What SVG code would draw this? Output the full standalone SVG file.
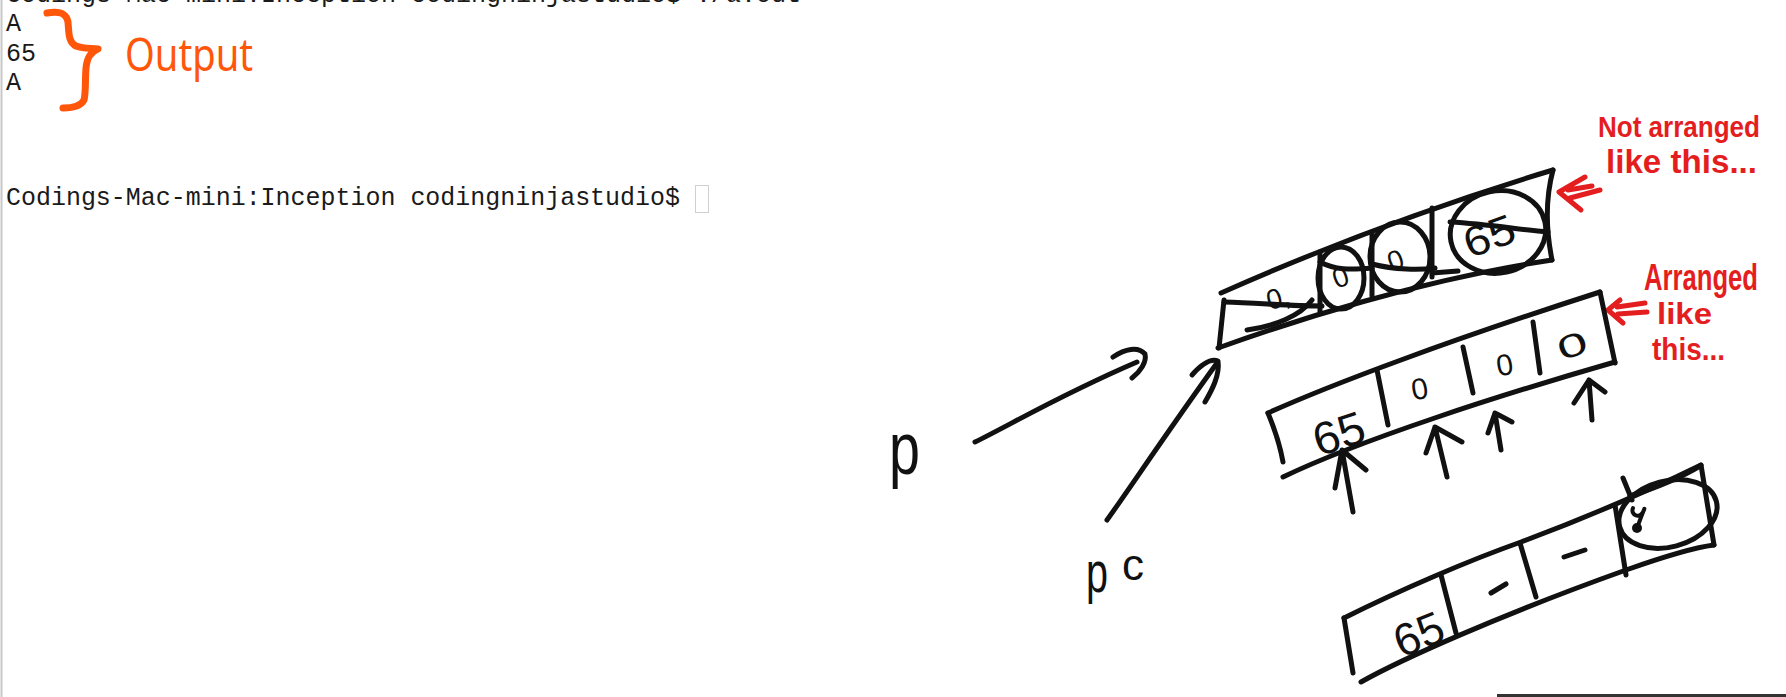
<svg xmlns="http://www.w3.org/2000/svg" width="1786" height="697" viewBox="0 0 1786 697">
<style>
.term{font-family:"Liberation Mono","DejaVu Sans Mono",monospace;font-size:25px;fill:#1a1a1a}
.ink{fill:none;stroke:#111;stroke-width:5;stroke-linecap:round;stroke-linejoin:round}
.inkt{fill:none;stroke:#111;stroke-width:4;stroke-linecap:round;stroke-linejoin:round}
.red{fill:none;stroke:#E41E1E;stroke-width:5;stroke-linecap:round;stroke-linejoin:round}
.orange{fill:none;stroke:#FF560A;stroke-width:7;stroke-linecap:round;stroke-linejoin:round}
.hand{font-family:"Liberation Sans","DejaVu Sans",sans-serif;fill:#111}
.redt{font-family:"Liberation Sans","DejaVu Sans",sans-serif;font-weight:bold;fill:#E41E1E}
</style>
<rect width="1786" height="697" fill="#fff"/>
<line x1="1.5" y1="0" x2="1.5" y2="697" stroke="#c8c8c8" stroke-width="2"/>
<line x1="1497" y1="695.5" x2="1786" y2="695.5" stroke="#333" stroke-width="3"/>

<g id="terminal">
<text class="term" x="6" y="2" textLength="795" lengthAdjust="spacingAndGlyphs">Codings-Mac-mini:Inception codingninjastudio$ ./a.out</text>
<text class="term" x="6" y="31">A</text>
<text class="term" x="6" y="61">65</text>
<text class="term" x="6" y="90">A</text>
<text class="term" x="6" y="205" textLength="674" lengthAdjust="spacingAndGlyphs">Codings-Mac-mini:Inception codingninjastudio$</text>
<rect x="695.5" y="185.5" width="13" height="27" fill="none" stroke="#d0d0d0" stroke-width="1"/>
</g>

<g id="output-note">
<path class="orange" d="M47,13 C58,11 66,12 68,22 C69,32 68,42 76,46 C84,49 92,48 98,49 C90,52 87,58 86,68 C85,80 86,92 84,100 C81,106 72,108 63,108"/>
<text x="125" y="71" font-family="Noto Sans, DejaVu Sans, sans-serif" font-size="46" fill="#FF560A" textLength="128" lengthAdjust="spacingAndGlyphs">Output</text>
</g>

<g id="label-p">
<text class="hand" x="889" y="474" font-size="74" textLength="31" lengthAdjust="spacingAndGlyphs">p</text>
</g>
<g id="label-pc">
<text class="hand" x="1086" y="592" font-size="58"><tspan textLength="22" lengthAdjust="spacingAndGlyphs">p</tspan><tspan x="1122" y="580" font-size="44">c</tspan></text>
</g>

<g id="connectors">
<path class="ink" d="M975,442 C1010,425 1060,395 1137,362"/>
<path class="ink" d="M1113,357 C1125,349 1138,346 1145,354 C1147,362 1140,372 1132,378"/>
<path class="ink" d="M1107,520 C1130,488 1165,435 1217,363"/>
<path class="ink" d="M1192,375 C1200,366 1210,358 1218,361 C1220,375 1212,390 1205,402"/>
<path class="ink" d="M1353,512 L1342,450 M1335,488 L1342,450 L1366,470"/>
<path class="ink" d="M1447,477 L1435,427 M1426,453 L1435,427 L1462,442"/>
<path class="ink" d="M1501,450 L1495,413 M1488,433 L1495,413 L1512,422"/>
<path class="ink" d="M1592,420 L1589,380 M1574,403 L1589,380 L1605,392"/>
<path class="red" d="M1585,177 L1559,192 L1581,210 M1568,190 L1592,186 M1570,198 L1600,190"/>
<path class="red" d="M1620,300 L1608,310 L1623,323 M1617,307 L1645,303 M1618,314 L1647,312"/>
</g>

<g id="box-not-arranged">
<path class="ink" d="M1221,293 C1300,258 1420,210 1553,170"/>
<path class="ink" d="M1224,300 L1219,348"/>
<path class="ink" d="M1218,348 C1290,322 1420,280 1552,260"/>
<path class="ink" d="M1553,170 C1545,200 1546,230 1552,260"/>
<path class="ink" d="M1320,252 L1320,312 M1372,232 L1372,296 M1432,208 L1432,277"/>
<path class="ink" d="M1432,273 L1458,271" stroke-width="7"/>
<path class="ink" d="M1247,330 C1275,326 1300,316 1312,300"/>
<path class="ink" d="M1224,302 C1260,303 1290,306 1322,306"/>
<ellipse class="ink" cx="1341" cy="278" rx="23" ry="31"/>
<ellipse class="ink" cx="1400" cy="257" rx="30" ry="35"/>
<ellipse class="ink" cx="1498" cy="232" rx="48" ry="41" transform="rotate(-12 1498 232)"/>
<path class="ink" d="M1372,264 C1395,270 1420,270 1435,268"/>
<path class="ink" d="M1450,222 C1490,224 1520,230 1548,232"/>
<path class="ink" d="M1320,262 C1335,270 1350,270 1372,268"/>
<text class="hand" x="1266" y="307" font-size="28" transform="rotate(-15 1280 296)">0,</text>
<text class="hand" x="1332" y="287" font-size="28" transform="rotate(-20 1340 275)">0</text>
<text class="hand" x="1387" y="270" font-size="28" transform="rotate(-20 1395 258)">0</text>
<text class="hand" x="1462" y="250" font-size="42" textLength="52" lengthAdjust="spacingAndGlyphs" transform="rotate(-20 1490 232)">65</text>
</g>

<g id="note-not-arranged">
<text class="redt" x="1598" y="137" font-size="30" textLength="162" lengthAdjust="spacingAndGlyphs">Not arranged</text>
<text class="redt" x="1606" y="173" font-size="33" textLength="151" lengthAdjust="spacingAndGlyphs">like this...</text>
</g>

<g id="box-arranged">
<path class="ink" d="M1268,413 C1330,385 1450,340 1600,292"/>
<path class="ink" d="M1268,413 C1275,430 1280,445 1283,462"/>
<path class="ink" d="M1600,292 L1615,363"/>
<path class="ink" d="M1283,477 C1360,440 1500,395 1615,362"/>
<path class="ink" d="M1377,370 L1388,425 M1463,347 L1473,393 M1533,322 L1540,373"/>
<text class="hand" x="1310" y="450" font-size="46" textLength="52" lengthAdjust="spacingAndGlyphs" transform="rotate(-18 1336 425)">65</text>
<text class="hand" x="1411" y="399" font-size="30" transform="rotate(-10 1420 387)">0</text>
<text class="hand" x="1496" y="375" font-size="30" transform="rotate(-10 1505 363)">0</text>
<text class="hand" x="1557" y="357" font-size="32" textLength="30" lengthAdjust="spacingAndGlyphs" transform="rotate(-20 1571 345)">0</text>
</g>

<g id="note-arranged">
<text class="redt" x="1644" y="290" font-size="36" textLength="114" lengthAdjust="spacingAndGlyphs">Arranged</text>
<text class="redt" x="1657" y="324" font-size="30" textLength="55" lengthAdjust="spacingAndGlyphs">like</text>
<text class="redt" x="1652" y="360" font-size="32" textLength="73" lengthAdjust="spacingAndGlyphs">this...</text>
</g>

<g id="box-bottom">
<path class="ink" d="M1344,618 C1400,590 1470,560 1521,542 C1580,520 1650,490 1701,465"/>
<path class="ink" d="M1344,618 L1353,673"/>
<path class="ink" d="M1361,682 C1400,660 1500,615 1626,570 C1660,558 1690,548 1714,545"/>
<path class="ink" d="M1701,465 L1714,545"/>
<path class="ink" d="M1441,575 L1456,633 M1520,543 L1536,597 M1615,505 L1626,575"/>
<path class="ink" d="M1623,478 L1632,500"/>
<path class="ink" d="M1630,496 C1655,488 1680,478 1700,466" stroke-width="7"/>
<ellipse class="ink" cx="1668" cy="514" rx="50" ry="33" transform="rotate(-15 1668 514)"/>
<path class="inkt" d="M1633,508 C1630,515 1640,520 1644,510 C1646,504 1640,520 1637,528"/>
<circle cx="1637" cy="528" r="5" fill="#111"/>
<text class="hand" x="1390" y="651" font-size="46" textLength="50" lengthAdjust="spacingAndGlyphs" transform="rotate(-22 1415 625)">65</text>
<path class="ink" d="M1491,593 L1506,584 M1564,557 L1585,550"/>
</g>
</svg>
